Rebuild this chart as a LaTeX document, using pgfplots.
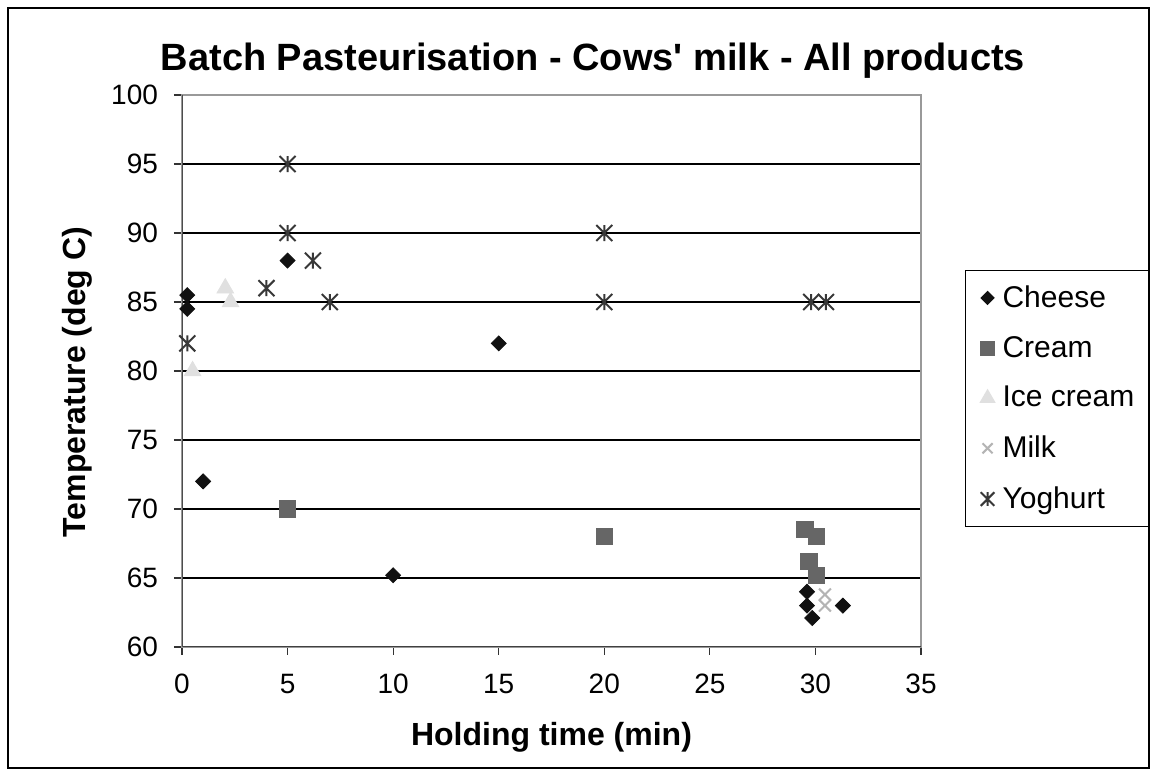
\documentclass[border=0pt]{standalone}
\usepackage{pgfplots}
\pgfplotsset{compat=1.18}
\usepackage{fontspec}
\setmainfont{Liberation Sans}

% Excel style star: an x with a vertical bar
\pgfdeclareplotmark{xlstar}{%
  \pgfpathmoveto{\pgfqpoint{-\pgfplotmarksize}{-\pgfplotmarksize}}%
  \pgfpathlineto{\pgfqpoint{\pgfplotmarksize}{\pgfplotmarksize}}%
  \pgfpathmoveto{\pgfqpoint{-\pgfplotmarksize}{\pgfplotmarksize}}%
  \pgfpathlineto{\pgfqpoint{\pgfplotmarksize}{-\pgfplotmarksize}}%
  \pgfpathmoveto{\pgfqpoint{0pt}{-\pgfplotmarksize}}%
  \pgfpathlineto{\pgfqpoint{0pt}{\pgfplotmarksize}}%
  \pgfusepathqstroke}

\definecolor{cheese}{HTML}{111111}
\definecolor{cream}{HTML}{666666}
\definecolor{icecream}{HTML}{E0E0E0}
\definecolor{milk}{HTML}{B4B4B4}
\definecolor{yoghurt}{HTML}{383838}

\begin{document}
\begin{tikzpicture}
\useasboundingbox (0,0) rectangle (578.5pt,388pt);
\draw[black, line width=1pt] (4pt,4pt) rectangle (574.5pt,384pt);

\begin{axis}[
    at={(91pt,64.5pt)}, anchor=south west,
    scale only axis,
    width=369.5pt, height=276pt,
    xmin=0, xmax=35, ymin=60, ymax=100,
    xtick={0,5,...,35}, ytick={60,65,...,100},
    xtick pos=bottom, ytick pos=left,
    tick align=outside,
    major tick length=4pt,
    tick style={black!80, line width=0.6pt},
    axis line style={draw=gray!80, line width=0.8pt},
    ymajorgrids,
    grid style={black, line width=0.6pt},
    /pgf/number format/assume math mode=true,
    ticklabel style={font=\fontsize{14}{17}\selectfont},
    yticklabel style={xshift=-4.5pt},
    xticklabel style={yshift=-6pt},
    title={Batch Pasteurisation - Cows\textquotesingle\ milk - All products},
    title style={font=\bfseries\fontsize{19}{22}\selectfont,
        at={(axis description cs:0.556,1.04)}, anchor=center},
    xlabel={Holding time (min)},
    xlabel style={font=\bfseries\fontsize{16}{19}\selectfont,
        at={(axis description cs:0.5,-0.163)}, anchor=center},
    ylabel={Temperature (deg C)},
    ylabel style={font=\bfseries\fontsize{16}{19}\selectfont,
        at={(axis description cs:-0.142,0.48)}, anchor=center},
    legend style={at={(1.0595,0.683)}, anchor=north west,
        draw=black, line width=0.6pt,
        font=\fontsize{15}{18}\selectfont,
        inner xsep=5pt, inner ysep=5.5pt, row sep=9pt},
    legend cell align=left,
    legend image code/.code={%
        \path[draw=none] (0pt,0pt) -- (11.5pt,0pt);
        \draw[mark repeat=2,mark phase=2,#1,every mark/.append style={scale=0.85}]
        plot coordinates {(0pt,0pt) (6pt,0pt) (11.5pt,0pt)};},
]

% Cheese
\addplot[only marks, mark=square*, mark size=2.65pt,
    mark options={rotate=45, fill=cheese, draw=cheese}]
coordinates {(0.25,85.5) (0.25,84.5) (1,72) (5,88) (10,65.2) (15,82)
    (29.6,64) (29.6,63) (29.85,62.1) (31.3,63)};
\addlegendentry{Cheese}

% Cream
\addplot[only marks, mark=square*, mark size=4.1pt,
    mark options={fill=cream, draw=cream}]
coordinates {(5,70) (20,68) (29.5,68.5) (30.05,68) (29.7,66.2) (30.05,65.2)};
\addlegendentry{Cream}

% Ice cream
\addplot[only marks, mark=triangle*, mark size=4.8pt,
    mark options={fill=icecream, draw=icecream}]
coordinates {(0.5,80) (2.05,86) (2.3,85)};
\addlegendentry{Ice cream}

% Milk
\addplot[only marks, mark=x, mark size=4.2pt,
    mark options={draw=milk, line width=1pt}]
coordinates {(30.45,63.8) (30.45,63)};
\addlegendentry{Milk}

% Yoghurt
\addplot[only marks, mark=xlstar, mark size=4pt,
    mark options={draw=yoghurt, line width=1pt}]
coordinates {(0.25,82) (4,86) (5,90) (5,95) (6.2,88) (7,85)
    (20,90) (20,85) (29.8,85) (30.5,85)};
\addlegendentry{Yoghurt}

\draw[black!75, line width=1pt] (rel axis cs:0,0) -- (rel axis cs:1,0);
\draw[gray!60!black, line width=0.8pt] (rel axis cs:0,0) -- (rel axis cs:0,1);
\end{axis}
\end{tikzpicture}
\end{document}
